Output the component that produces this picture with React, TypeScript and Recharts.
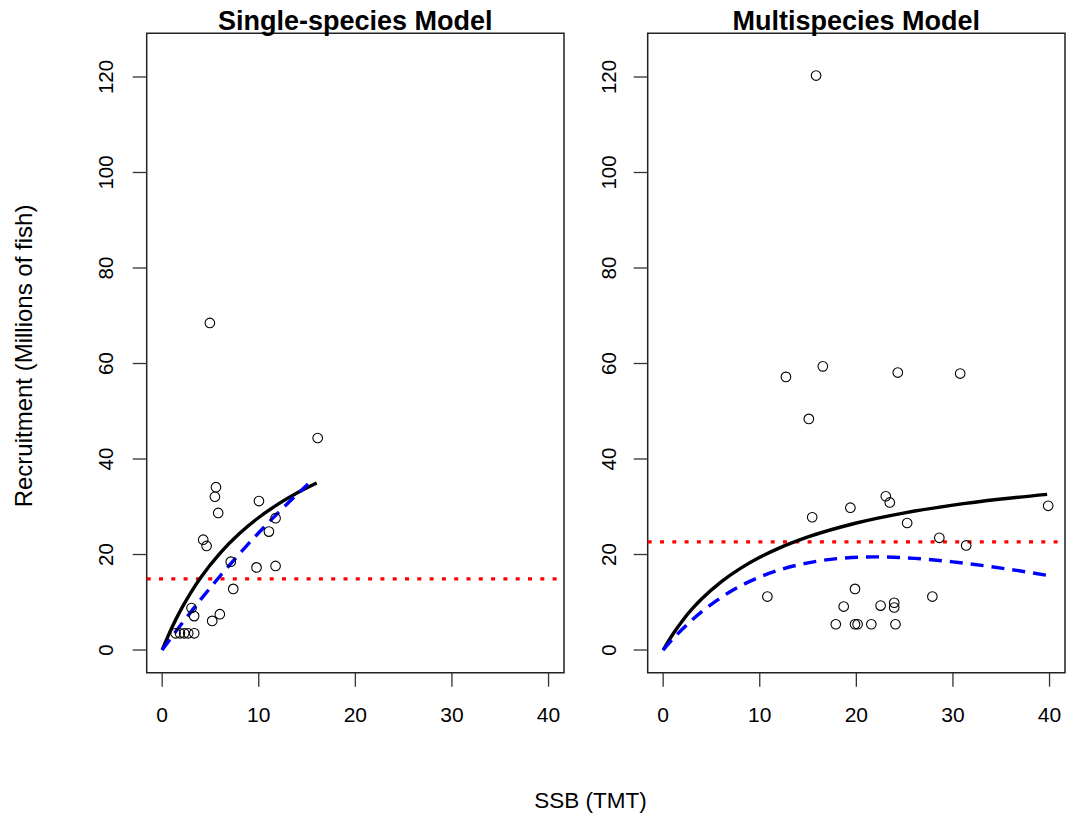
import React from "react";
import {
  ComposedChart,
  Scatter,
  Line,
  XAxis,
  YAxis,
  ReferenceLine,
  ReferenceArea,
} from "recharts";

// ---------- data ----------
const xTicks = [0, 10, 20, 30, 40];
const yTicks = [0, 20, 40, 60, 80, 100, 120];

// Single-species panel observations
const ssObsSSB = [5.57, 5.46, 5.8, 10.02, 11.74, 11.05, 4.25, 4.6, 7.1, 9.77, 11.74, 7.36, 3.04, 3.31, 5.97, 5.18, 1.39, 1.84, 2.28, 2.7, 3.32, 16.1, 4.94];
const ssObsRec = [34.1, 32.1, 28.7, 31.2, 27.6, 24.8, 23.1, 21.8, 18.5, 17.3, 17.6, 12.8, 8.8, 7.1, 7.5, 6.1, 3.5, 3.5, 3.5, 3.5, 3.5, 44.4, 68.5];
// Single-species fitted curves
const ssSolidSSB = [0, 1, 2, 3, 4, 6, 8, 10, 12, 14, 16];
const ssSolidRec = [0, 4.66, 8.66, 12.14, 15.19, 20.29, 24.39, 27.75, 30.55, 32.93, 34.97];
const ssDashSSB = [0, 2, 4, 6, 8, 10, 12, 14, 15.1];
const ssDashRec = [0, 5.44, 10.6, 15.5, 20.15, 24.56, 28.72, 32.67, 34.75];
const ssMeanRec = 14.9;

// Multispecies panel observations
const msObsSSB = [12.71, 16.53, 24.29, 30.75, 15.08, 23.05, 23.46, 19.38, 15.43, 25.26, 39.86, 28.59, 31.37, 10.79, 19.86, 27.87, 18.69, 22.51, 23.92, 23.92, 17.87, 19.86, 20.13, 21.55, 24.05, 15.83];
const msObsRec = [57.2, 59.4, 58.1, 57.9, 48.4, 32.2, 30.9, 29.8, 27.8, 26.6, 30.2, 23.5, 21.9, 11.2, 12.8, 11.2, 9.1, 9.3, 9.9, 8.9, 5.4, 5.4, 5.4, 5.4, 5.4, 120.3];
// Multispecies fitted curves
const msSolidSSB = [0, 1, 2, 3, 4, 6, 8, 10, 12, 15, 20, 25, 30, 35, 39.75];
const msSolidRec = [0, 3.31, 6.14, 8.59, 10.72, 14.27, 17.1, 19.42, 21.34, 23.68, 26.6, 28.73, 30.35, 31.62, 32.6];
const msDashSSB = [0, 1, 2, 3, 4, 6, 8, 10, 12, 15, 18, 22, 26, 30, 35, 39.75];
const msDashRec = [0, 2.3, 4.4, 6.31, 8.03, 11.0, 13.4, 15.29, 16.75, 18.26, 19.13, 19.5, 19.2, 18.46, 17.15, 15.64];
const msMeanRec = 22.66;

const zip = (xs: number[], ys: number[]) => xs.map((x, i) => ({ x, y: ys[i] }));

// ---------- layout ----------
const FONT = "'Liberation Sans', Arial, Helvetica, sans-serif";
const X_DOMAIN: [number, number] = [-1.6, 41.6];
const Y_DOMAIN: [number, number] = [-4.75, 129.15];
const H = 818;
const TOP = 33.3;
const BOTTOM_TOTAL = 145.3; // xAxis height + bottom margin

type PanelProps = {
  left: number;
  width: number;
  plotLeft: number;
  plotRight: number;
  obs: { x: number; y: number }[];
  solid: { x: number; y: number }[];
  dash: { x: number; y: number }[];
  mean: number;
  yLabelOffset: number;
};

const Circle = (p: any) => {
  if (p.cx == null || p.cy == null) return null;
  return <circle cx={p.cx} cy={p.cy} r={4.8} fill="none" stroke="#000" strokeWidth={1.1} />;
};

const Panel = ({ left, width, plotLeft, plotRight, obs, solid, dash, mean, yLabelOffset }: PanelProps) => {
  const xTick = (p: any) => (
    <g>
      <text x={p.x} y={721.5} textAnchor="middle" fontFamily={FONT} fontSize={21} fill="#000">
        {p.payload.value}
      </text>
    </g>
  );
  const yTick = (p: any) => {
    const lx = plotLeft - yLabelOffset;
    return (
      <g>
        <text
          x={lx}
          y={p.y}
          transform={`rotate(-90, ${lx}, ${p.y})`}
          textAnchor="middle"
          fontFamily={FONT}
          fontSize={20.5}
          fill="#000"
        >
          {p.payload.value}
        </text>
      </g>
    );
  };
  return (
    <div style={{ position: "absolute", left, top: 0 }}>
      <ComposedChart
        width={width}
        height={H}
        margin={{ top: TOP, right: width - plotRight, bottom: BOTTOM_TOTAL - 60, left: 0 }}
      >
        <XAxis
          type="number"
          dataKey="x"
          domain={X_DOMAIN}
          ticks={xTicks}
          allowDataOverflow
          axisLine={false}
          tickLine={{ stroke: "#333", strokeWidth: 1.3 }}
          tickSize={14}
          height={60}
          tick={xTick}
          interval={0}
        />
        <YAxis
          type="number"
          dataKey="y"
          domain={Y_DOMAIN}
          ticks={yTicks}
          allowDataOverflow
          axisLine={false}
          tickLine={{ stroke: "#333", strokeWidth: 1.3 }}
          tickSize={14}
          width={plotLeft}
          tick={yTick}
          interval={0}
        />
        <ReferenceArea
          x1={X_DOMAIN[0]}
          x2={X_DOMAIN[1]}
          y1={Y_DOMAIN[0]}
          y2={Y_DOMAIN[1]}
          fill="none"
          fillOpacity={0}
          stroke="#222"
          strokeWidth={1.5}
          ifOverflow="visible"
        />
        <Scatter data={obs} dataKey="y" shape={Circle} isAnimationActive={false} />
        <ReferenceLine y={mean} stroke="#ff0000" strokeWidth={3.2} strokeDasharray="4 8.3" ifOverflow="visible" />
        <Line
          data={solid}
          dataKey="y"
          type="monotone"
          stroke="#000"
          strokeWidth={3.4}
          dot={false}
          activeDot={false}
          isAnimationActive={false}
        />
        <Line
          data={dash}
          dataKey="y"
          type="monotone"
          stroke="#0000ff"
          strokeWidth={3.4}
          strokeDasharray="13 8"
          dot={false}
          activeDot={false}
          isAnimationActive={false}
        />
      </ComposedChart>
    </div>
  );
};

export default function App() {
  return (
    <div
      style={{
        position: "absolute",
        left: 0,
        top: 0,
        width: 1072,
        height: H,
        background: "#fff",
        overflow: "hidden",
      }}
    >
      <Panel
        left={0}
        width={580}
        plotLeft={146.7}
        plotRight={564}
        obs={zip(ssObsSSB, ssObsRec)}
        solid={zip(ssSolidSSB, ssSolidRec)}
        dash={zip(ssDashSSB, ssDashRec)}
        mean={ssMeanRec}
        yLabelOffset={33.4}
      />
      <Panel
        left={580}
        width={492}
        plotLeft={67.7}
        plotRight={485}
        obs={zip(msObsSSB, msObsRec)}
        solid={zip(msSolidSSB, msSolidRec)}
        dash={zip(msDashSSB, msDashRec)}
        mean={msMeanRec}
        yLabelOffset={31.7}
      />
      <svg
        width={1072}
        height={H}
        style={{ position: "absolute", left: 0, top: 0, pointerEvents: "none" }}
      >
        <text x={355.3} y={30} textAnchor="middle" fontFamily={FONT} fontWeight="bold" fontSize={27} fill="#000">
          Single-species Model
        </text>
        <text x={856.3} y={30} textAnchor="middle" fontFamily={FONT} fontWeight="bold" fontSize={27} fill="#000">
          Multispecies Model
        </text>
        <text x={590.5} y={807.7} textAnchor="middle" fontFamily={FONT} fontSize={22.5} fill="#000">
          SSB (TMT)
        </text>
        <text
          x={31.7}
          y={356}
          transform="rotate(-90, 31.7, 356)"
          textAnchor="middle"
          fontFamily={FONT}
          fontSize={24}
          fill="#000"
        >
          Recruitment (Millions of fish)
        </text>
      </svg>
    </div>
  );
}
